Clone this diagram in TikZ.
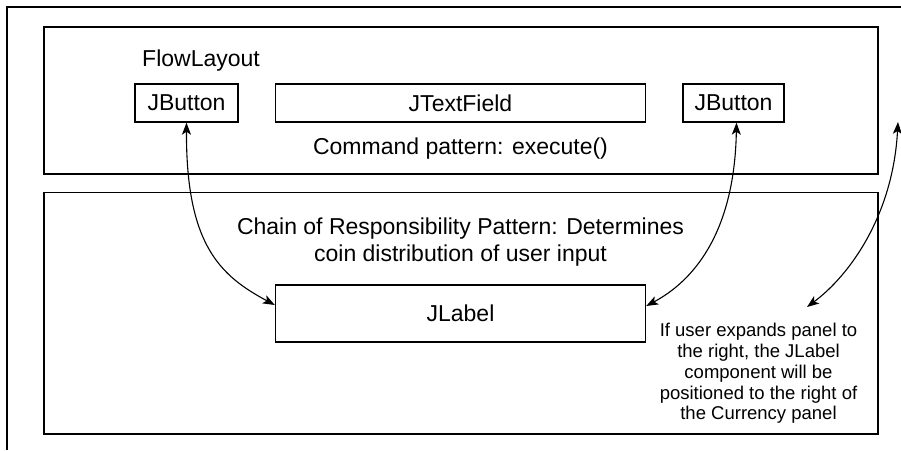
\documentclass[tikz,border=0pt]{standalone}
\usepackage{fontspec}
\setmainfont{Liberation Sans}
\usetikzlibrary{arrows.meta}
\begin{document}
\begin{tikzpicture}[x=1pt,y=-1pt,
  frame/.style={draw, line width=1.4pt},
  panel/.style={draw, line width=1.4pt},
  comp/.style={draw, line width=1.4pt, inner sep=0pt, font=\fontsize{23}{27}\selectfont},
  bigtext/.style={inner sep=0pt, font=\fontsize{23}{27}\selectfont, align=center},
  notetext/.style={inner sep=0pt, font=\fontsize{18.5}{20.8}\selectfont, align=center},
  tipA/.tip={Stealth[length=12pt,width=9pt,inset=3pt]},
  arr/.style={line width=1.1pt, tipA-tipA}
]
\useasboundingbox (0,0) rectangle (901,450);
% outer frame (only top and left visible)
\draw[frame] (7,450) -- (7,7) -- (901,7);
% panels
\node[panel, minimum width=834pt, minimum height=147pt, inner sep=0pt] (top) at (461,100.5) {};
\node[panel, minimum width=834pt, minimum height=241.5pt, inner sep=0pt] (bottom) at (461,313.25) {};
% top panel contents
\node[bigtext, anchor=base west] (flow) at (142,66) {FlowLayout};
\node[comp, minimum width=103pt, minimum height=38pt] (jb1) at (186.5,103) {JButton};
\node[comp, minimum width=370pt, minimum height=38pt] (jtf) at (460.5,103) {JTextField};
\node[comp, minimum width=101pt, minimum height=38pt] (jb2) at (733.5,103) {JButton};
\node[bigtext, anchor=base] (cmd) at (460.5,154) {Command pattern: execute()};
% bottom panel contents
\node[bigtext, anchor=north] (chain) at (460.5,217.5) {Chain of Responsibility Pattern: Determines\\coin distribution of user input};
\node[comp, minimum width=370pt, minimum height=57pt] (jl) at (460.5,313.5) {JLabel};
\node[notetext, anchor=north] (note) at (758.5,323) {If user expands panel to\\the right, the JLabel\\component will be\\positioned to the right of\\the Currency panel};
\coordinate (expand) at (898,122);
% connectors
\draw[arr] (jb1.south) .. controls +(-0.5,123) and +(-54,-29) .. ([yshift=8.5pt]jl.west);
\draw[arr] ([xshift=3pt]jb2.south) .. controls +(-2,113) and +(45,-24) .. ([yshift=7.5pt]jl.east);
\draw[arr] (expand) .. controls +(-5,93) and +(43,-32) .. ([xshift=48.5pt,yshift=16pt]note.north);
\end{tikzpicture}
\end{document}
